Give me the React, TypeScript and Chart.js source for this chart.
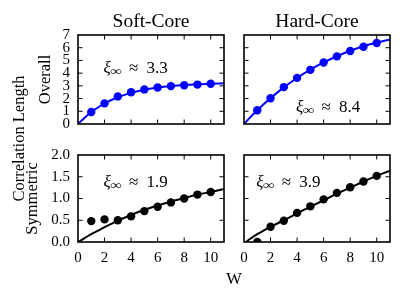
import React, { useEffect, useRef } from "react";
import { Chart, registerables } from "chart.js";

Chart.register(...registerables);

// ---------- data ----------
const W_VALUES = [1, 2, 3, 4, 5, 6, 7, 8, 9, 10];
const SOFT_OVERALL = [0.94, 1.62, 2.17, 2.5, 2.72, 2.87, 2.98, 3.05, 3.1, 3.16];
const HARD_OVERALL = [1.08, 2.03, 2.9, 3.63, 4.26, 4.84, 5.32, 5.74, 6.08, 6.37];
const SOFT_SYM = [0.48, 0.52, 0.5, 0.59, 0.71, 0.81, 0.91, 1.0, 1.09, 1.15];
const HARD_SYM = [0.0, 0.35, 0.49, 0.67, 0.82, 0.98, 1.13, 1.26, 1.39, 1.52];

const FIT_W = [0, 0.5, 1, 1.5, 2, 3, 4, 5, 6, 7, 8, 9, 10, 11];
const SOFT_OVERALL_FIT = [0, 0.5, 0.94, 1.3, 1.62, 2.1, 2.45, 2.7, 2.86, 2.98, 3.07, 3.13, 3.17, 3.2];
const HARD_OVERALL_FIT = [0, 0.56, 1.08, 1.57, 2.03, 2.88, 3.62, 4.27, 4.84, 5.33, 5.76, 6.12, 6.4, 6.65];
const SOFT_SYM_FIT = [0, 0.09, 0.18, 0.26, 0.34, 0.49, 0.62, 0.74, 0.84, 0.93, 1.01, 1.09, 1.15, 1.22];
const HARD_SYM_FIT = [-0.03, 0.08, 0.18, 0.27, 0.35, 0.5, 0.66, 0.81, 0.96, 1.11, 1.25, 1.39, 1.52, 1.64];

const X_TICKS = [0, 2, 4, 6, 8, 10];
const Y_TICKS_OVERALL = [0, 1, 2, 3, 4, 5, 6, 7];
const Y_TICKS_SYM = [0, 0.5, 1.0, 1.5, 2.0];

const XI_SOFT_OVERALL = "3.3";
const XI_HARD_OVERALL = "8.4";
const XI_SOFT_SYM = "1.9";
const XI_HARD_SYM = "3.9";

const COL_TITLES = ["Soft-Core", "Hard-Core"];
const ROW_LABELS = ["Overall", "Symmetric"];
const SUPER_Y_LABEL = "Correlation Length";
const X_LABEL = "W";

// ---------- layout ----------
const FIG_W = 415;
const FIG_H = 301;
const FONT = '"Liberation Serif", "DejaVu Serif", serif';
const BLUE = "#0000ff";
const BLACK = "#000000";

type Rect = { l: number; t: number; r: number; b: number };

type PanelDef = {
  rect: Rect;
  pts: number[];
  fit: number[];
  color: string;
  yMax: number;
  yTicks: number[];
  yDecimals: number;
  showY: boolean;
  showX: boolean;
  xi: string;
  note: { x: number; y: number };
  figureText?: boolean;
};

const COL_X = [
  { l: 78, r: 224 },
  { l: 244, r: 390 },
];
const ROW_Y = [
  { t: 35, b: 124 },
  { t: 155, b: 242 },
];

const PANELS: PanelDef[] = [
  {
    rect: { l: COL_X[0].l, r: COL_X[0].r, t: ROW_Y[0].t, b: ROW_Y[0].b },
    pts: SOFT_OVERALL, fit: SOFT_OVERALL_FIT, color: BLUE, yMax: 7,
    yTicks: Y_TICKS_OVERALL, yDecimals: 0, showY: true, showX: false,
    xi: XI_SOFT_OVERALL, note: { x: 2, y: 4.05 }, figureText: true,
  },
  {
    rect: { l: COL_X[1].l, r: COL_X[1].r, t: ROW_Y[0].t, b: ROW_Y[0].b },
    pts: HARD_OVERALL, fit: HARD_OVERALL_FIT, color: BLUE, yMax: 7,
    yTicks: Y_TICKS_OVERALL, yDecimals: 0, showY: false, showX: false,
    xi: XI_HARD_OVERALL, note: { x: 4, y: 0.95 },
  },
  {
    rect: { l: COL_X[0].l, r: COL_X[0].r, t: ROW_Y[1].t, b: ROW_Y[1].b },
    pts: SOFT_SYM, fit: SOFT_SYM_FIT, color: BLACK, yMax: 2,
    yTicks: Y_TICKS_SYM, yDecimals: 1, showY: true, showX: true,
    xi: XI_SOFT_SYM, note: { x: 2, y: 1.27 },
  },
  {
    rect: { l: COL_X[1].l, r: COL_X[1].r, t: ROW_Y[1].t, b: ROW_Y[1].b },
    pts: HARD_SYM, fit: HARD_SYM_FIT, color: BLACK, yMax: 2,
    yTicks: Y_TICKS_SYM, yDecimals: 1, showY: false, showX: true,
    xi: XI_HARD_SYM, note: { x: 1, y: 1.27 },
  },
];

const Y_AXIS_W = 40;
const X_AXIS_H = 30;

function drawXi(ctx: CanvasRenderingContext2D, x: number, y: number, value: string) {
  ctx.save();
  ctx.fillStyle = "#000";
  ctx.textBaseline = "alphabetic";
  ctx.textAlign = "left";
  ctx.font = `italic 17px ${FONT}`;
  ctx.fillText("ξ", x, y);
  // wide, flat infinity subscript
  ctx.save();
  ctx.font = `12px ${FONT}`;
  const w = ctx.measureText("∞").width;
  ctx.translate(x + 6.5, y + 2.5);
  ctx.scale(12 / w, 1);
  ctx.fillText("∞", 0, 0);
  ctx.restore();
  ctx.font = `17px ${FONT}`;
  ctx.fillText("≈", x + 25.5, y);
  ctx.fillText(value, x + 43, y);
  ctx.restore();
}

function makePanelPlugin(p: PanelDef) {
  return {
    id: "panelDecor",
    afterDraw(chart: any) {
      const ctx: CanvasRenderingContext2D = chart.ctx;
      const a = chart.chartArea;
      const xs = chart.scales.x;
      const ys = chart.scales.y;
      ctx.save();
      // inward ticks
      ctx.strokeStyle = "#000";
      ctx.lineWidth = 1;
      const TL = 4.5;
      ctx.beginPath();
      for (const v of X_TICKS) {
        const px = xs.getPixelForValue(v);
        if (px <= a.left + 1 || px >= a.right - 1) continue;
        ctx.moveTo(px, a.bottom);
        ctx.lineTo(px, a.bottom - TL);
        ctx.moveTo(px, a.top);
        ctx.lineTo(px, a.top + TL);
      }
      for (const v of p.yTicks) {
        const py = ys.getPixelForValue(v);
        if (py <= a.top + 1 || py >= a.bottom - 1) continue;
        ctx.moveTo(a.left, py);
        ctx.lineTo(a.left + TL, py);
        ctx.moveTo(a.right, py);
        ctx.lineTo(a.right - TL, py);
      }
      ctx.stroke();
      // frame
      ctx.lineWidth = 1.6;
      ctx.strokeRect(a.left, a.top, a.right - a.left, a.bottom - a.top);
      // annotation
      drawXi(ctx, xs.getPixelForValue(p.note.x) - 1, ys.getPixelForValue(p.note.y), p.xi);

      if (p.figureText) {
        ctx.fillStyle = "#000";
        ctx.textAlign = "center";
        ctx.textBaseline = "alphabetic";
        ctx.font = `19.5px ${FONT}`;
        ctx.fillText(COL_TITLES[0], (COL_X[0].l + COL_X[0].r) / 2, 27);
        ctx.fillText(COL_TITLES[1], (COL_X[1].l + COL_X[1].r) / 2, 27);
        ctx.font = `16.5px ${FONT}`;
        ctx.fillText(X_LABEL, (COL_X[0].l + COL_X[1].r) / 2, 284);
        const rot = (text: string, x: number, y: number) => {
          ctx.save();
          ctx.translate(x, y);
          ctx.rotate(-Math.PI / 2);
          ctx.textAlign = "center";
          ctx.textBaseline = "middle";
          ctx.fillText(text, 0, 0);
          ctx.restore();
        };
        rot(ROW_LABELS[0], 46, (ROW_Y[0].t + ROW_Y[0].b) / 2);
        rot(ROW_LABELS[1], 32.5, (ROW_Y[1].t + ROW_Y[1].b) / 2);
        rot(SUPER_Y_LABEL, 19.5, 138.5);
      }
      ctx.restore();
    },
  };
}

function Panel({ p }: { p: PanelDef }) {
  const ref = useRef<HTMLCanvasElement | null>(null);
  useEffect(() => {
    if (!ref.current) return;
    const fitData = FIT_W.map((x, i) => ({ x, y: p.fit[i] }));
    const ptData = W_VALUES.map((x, i) => ({ x, y: p.pts[i] }));
    const yW = p.showY ? Y_AXIS_W : 0;
    const xH = p.showX ? X_AXIS_H : 0;
    const padding = {
      left: p.rect.l - yW,
      top: p.rect.t,
      right: FIG_W - p.rect.r,
      bottom: FIG_H - p.rect.b - xH,
    };
    const chart = new Chart(ref.current, {
      type: "line",
      data: {
        datasets: [
          {
            data: fitData,
            borderColor: p.color,
            backgroundColor: p.color,
            borderWidth: 2,
            pointRadius: 0,
            cubicInterpolationMode: "monotone",
            clip: 0,
            order: 2,
          } as any,
          {
            data: ptData,
            showLine: false,
            borderColor: p.color,
            backgroundColor: p.color,
            pointRadius: 4.2,
            pointBorderWidth: 0,
            clip: 0,
            order: 1,
          } as any,
        ],
      },
      options: {
        animation: false,
        responsive: false,
        events: [],
        layout: { padding },
        plugins: {
          legend: { display: false },
          tooltip: { enabled: false },
        },
        scales: {
          x: {
            type: "linear",
            min: 0,
            max: 11,
            display: p.showX,
            grid: { display: false, drawTicks: false },
            border: { display: false },
            ticks: {
              stepSize: 2,
              includeBounds: false,
              autoSkip: false,
              maxRotation: 0,
              padding: 7,
              color: "#000",
              font: { family: FONT, size: 15 },
            },
            afterFit: (s: any) => {
              s.height = xH;
            },
          },
          y: {
            type: "linear",
            min: 0,
            max: p.yMax,
            display: p.showY,
            grid: { display: false, drawTicks: false },
            border: { display: false },
            ticks: {
              stepSize: p.yTicks[1] - p.yTicks[0],
              autoSkip: false,
              padding: 8,
              color: "#000",
              font: { family: FONT, size: 15 },
              callback: (v: any) => Number(v).toFixed(p.yDecimals),
            },
            afterFit: (s: any) => {
              s.width = yW;
            },
          },
        },
      } as any,
      plugins: [makePanelPlugin(p)],
    });
    return () => chart.destroy();
  }, [p]);
  return (
    <canvas
      ref={ref}
      width={FIG_W}
      height={FIG_H}
      style={{ position: "absolute", left: 0, top: 0, width: FIG_W, height: FIG_H }}
    />
  );
}

export default function App() {
  return (
    <div
      style={{
        position: "absolute",
        left: 0,
        top: 0,
        width: FIG_W,
        height: FIG_H,
        background: "#fff",
      }}
    >
      {PANELS.map((p, i) => (
        <Panel key={i} p={p} />
      ))}
    </div>
  );
}
